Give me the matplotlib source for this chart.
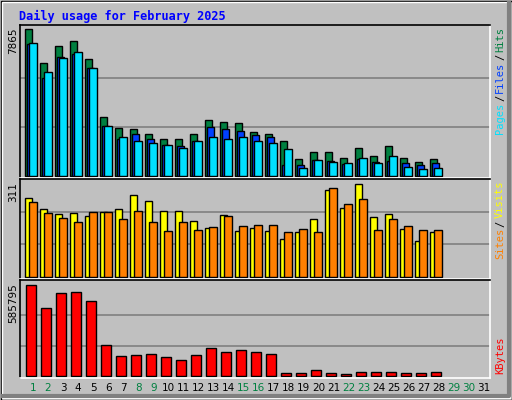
import matplotlib
matplotlib.use("Agg")
import matplotlib.pyplot as plt
from matplotlib.patches import Rectangle
import numpy as np

days = list(range(1, 32))
hits = [7865, 6050, 6960, 7230, 6270, 3160, 2590, 2530, 2270, 1960, 1960, 2270, 3010, 2870,
        2810, 2380, 2250, 1890, 930, 1300, 1300, 980, 1520, 1090, 1630, 980, 770, 930]
files = [7080, 5250, 6370, 6510, 5760, 2680, 1960, 2230, 2000, 1680, 1620, 1890, 2640, 2530,
         2430, 2170, 2060, 570, 600, 880, 820, 620, 930, 770, 820, 720, 570, 680]
pages = [7120, 5570, 6320, 6640, 5790, 2690, 2110, 1890, 1790, 1680, 1520, 1890, 2110, 1960,
         2060, 1890, 1790, 1470, 450, 880, 770, 680, 980, 680, 1090, 500, 400, 450]
visits = [250, 216, 200, 203, 194, 206, 216, 260, 241, 210, 210, 178, 155, 197,
          146, 155, 146, 120, 142, 183, 275, 218, 294, 189, 199, 151, 113, 142]
sites = [238, 203, 187, 175, 206, 206, 184, 210, 175, 146, 175, 149, 159, 194,
         162, 165, 164, 142, 151, 142, 282, 231, 247, 148, 183, 161, 148, 148]
kbytes = [585795, 438400, 534500, 540900, 483300, 201200, 130700, 137200, 143600, 124300,
          105100, 137200, 182000, 156400, 169200, 156400, 143600, 21800, 21800, 41000,
          21800, 15400, 28200, 28200, 28200, 21800, 21800, 28200]
weekend = {1, 2, 8, 9, 15, 16, 22, 23, 29, 30}
title = "Daily usage for February 2025"

W, H = 512, 400
fig = plt.figure(figsize=(W / 100, H / 100), dpi=100)
fig.patch.set_facecolor("#C0C0C0")
bg = fig.add_axes([0, 0, 1, 1])
bg.set_xlim(0, W); bg.set_ylim(H, 0); bg.axis("off")
bg.add_patch(Rectangle((0.5, 0.5), W - 1, H - 1, fill=False, ec="black", lw=1))
bg.add_patch(Rectangle((1.5, 1.5), W - 4, H - 4, fill=False, ec="white", lw=1))
bg.plot([3, W - 3, W - 3], [H - 4, H - 4, 3], color="#808080", lw=3)

mono = "DejaVu Sans Mono"
bg.text(19, 16, title, color="#0000FF", fontsize=8.6, family=mono, weight="bold", va="center")

x0, x1 = 20, 490
xl = (1 - 13 / 15, 1 + 457 / 15)
d = np.arange(1, len(hits) + 1)


def mk(ytop, ybot, base, vmax, hmax):
    ax = fig.add_axes([x0 / W, 1 - ybot / H, (x1 - x0) / W, (ybot - ytop) / H])
    ax.set_facecolor("#C0C0C0")
    s = vmax / hmax
    ax.set_ylim(-(ybot - base) * s, (base - ytop) * s)
    ax.set_xlim(*xl)
    ax.set_xticks([]); ax.set_yticks([])
    for g in (vmax / 3, 2 * vmax / 3):
        ax.axhline(g, color="#808080", lw=1.2, zorder=0)
    for sp in ax.spines.values():
        sp.set_color("black"); sp.set_linewidth(1.2)
    ax.spines["bottom"].set_color("white"); ax.spines["right"].set_color("white")
    return ax


kw = dict(align="edge", edgecolor="black", linewidth=1)
a1 = mk(25, 178, 176, hits[0], 147)
a1.bar(d - 0.53, hits, 0.47, color="#008040", **kw)
a1.bar(d - 0.40, files, 0.47, color="#0040FF", **kw)
a1.bar(d - 0.27, pages, 0.52, color="#00E0FF", **kw)

a2 = mk(179, 279, 277, 311, 98)
a2.bar(d - 0.53, visits, 0.47, color="#FFFF00", **kw)
a2.bar(d - 0.27, sites, 0.53, color="#FF8000", **kw)

a3 = mk(280, 378, 376, kbytes[0], 91.4)
a3.bar(d - 0.45, kbytes, 0.67, color="#FF0000", **kw)

for y, t in ((27, "7865"), (182, "311"), (283, "585795")):
    bg.text(13, y, t, rotation=90, fontsize=7.5, ha="center", va="top", color="black")

for day in days:
    bg.text(33 + 15.03 * (day - 1), 388, str(day), fontsize=7.5, ha="center", va="center",
            color="#008040" if day in weekend else "black")


def vlabel(ytop, parts):
    y = ytop
    for t, c in parts:
        bg.text(500, y, t, rotation=90, fontsize=7.5, family=mono, ha="center", va="top", color=c)
        y += 6.3 * len(t) + 1.5


vlabel(27, [("Hits", "#008040"), ("/", "black"), ("Files", "#0040FF"), ("/", "black"), ("Pages", "#00E0FF")])
vlabel(181, [("Visits", "#FFFF00"), ("/", "black"), ("Sites", "#FF8000")])
vlabel(337, [("KBytes", "#FF0000")])

fig.savefig("out.png", dpi=100, facecolor=fig.get_facecolor())
